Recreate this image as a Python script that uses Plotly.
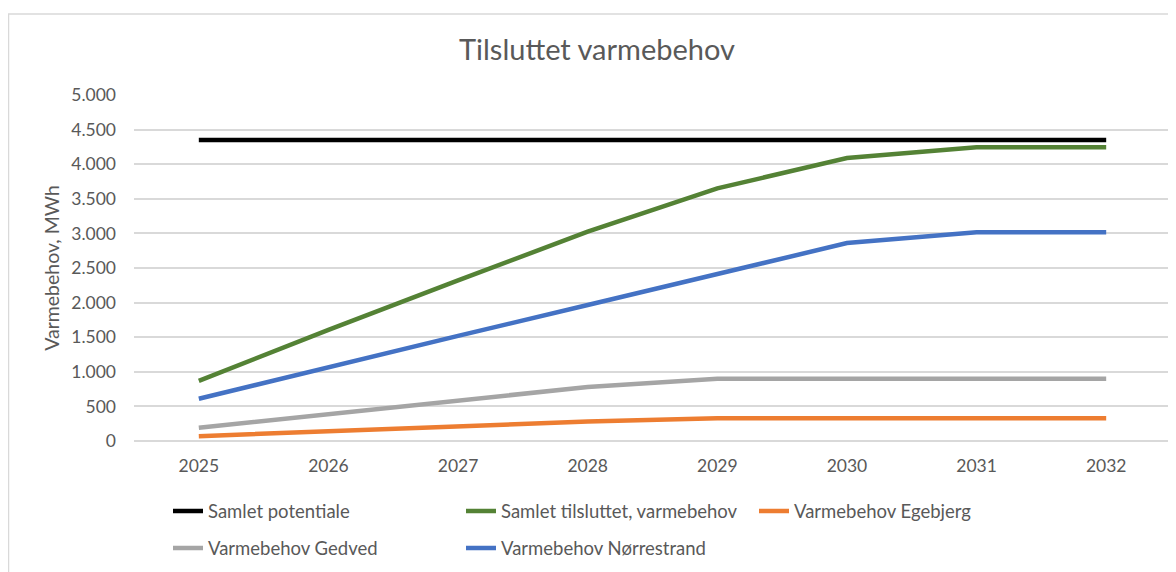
import plotly.graph_objects as go

years = ["2025", "2026", "2027", "2028", "2029", "2030", "2031", "2032"]

samlet_potentiale = [4350, 4350, 4350, 4350, 4350, 4350, 4350, 4350]
samlet_tilsluttet = [870, 1605, 2320, 3025, 3650, 4090, 4245, 4245]
egebjerg = [70, 145, 210, 280, 330, 330, 330, 330]
gedved = [190, 390, 590, 780, 900, 900, 900, 900]
noerrestrand = [610, 1070, 1520, 1965, 2420, 2860, 3015, 3015]

# (name, values, colour, legend row)
series = [
    ("Samlet potentiale", samlet_potentiale, "#000000", "legend"),
    ("Samlet tilsluttet, varmebehov", samlet_tilsluttet, "#548235", "legend"),
    ("Varmebehov Egebjerg", egebjerg, "#ED7D31", "legend"),
    ("Varmebehov Gedved", gedved, "#A5A5A5", "legend2"),
    ("Varmebehov Nørrestrand", noerrestrand, "#4472C4", "legend2"),
]

FONT = "Lato"
GREY_TXT = "#595959"
# page body has an 8px margin, so the figure is a bit smaller than the window
W, H = 1168, 564
L, R, T, B = 126, 5, 87, 123
PW, PH = W - L - R, H - T - B

fig = go.Figure()
for name, vals, col, leg in series:
    fig.add_trace(
        go.Scatter(
            x=years,
            y=vals,
            name=name,
            mode="lines",
            line=dict(color=col, width=4.5),
            legend=leg,
        )
    )


def _legend_row(y_px):
    return dict(
        orientation="h",
        x=(173 - 8 - L - 5) / PW,
        xanchor="left",
        y=(441 - y_px) / PH,
        yanchor="middle",
        entrywidth=248,
        entrywidthmode="pixels",
        itemwidth=30,
        font=dict(family=FONT, size=18.5, color=GREY_TXT),
        bgcolor="rgba(0,0,0,0)",
    )


fig.update_layout(
    width=W,
    height=H,
    margin=dict(l=L, r=R, t=T, b=B),
    paper_bgcolor="white",
    plot_bgcolor="white",
    separators=",.",
    font=dict(family=FONT, size=17.5, color=GREY_TXT),
    title=dict(
        text="Tilsluttet varmebehov",
        x=(597 - 8) / W,
        xref="container",
        xanchor="center",
        y=1 - 42 / H,
        yref="container",
        yanchor="middle",
        font=dict(family=FONT, size=29, color=GREY_TXT),
    ),
    xaxis=dict(
        type="category",
        range=[-0.5, 7.5],
        showgrid=False,
        showline=False,
        ticks="",
        tickfont=dict(size=17.5, color=GREY_TXT),
        ticklabelstandoff=12,
    ),
    yaxis=dict(
        range=[0, 5000],
        dtick=500,
        tickformat=",d",
        showgrid=True,
        gridcolor="#D9D9D9",
        gridwidth=1.5,
        zeroline=True,
        zerolinecolor="#D9D9D9",
        zerolinewidth=1.5,
        showline=False,
        ticks="",
        tickfont=dict(size=17.5, color=GREY_TXT),
        ticklabelstandoff=17,
        title=dict(
            text="Varmebehov, MWh",
            font=dict(size=19.5, color=GREY_TXT),
            standoff=6,
        ),
    ),
    legend=_legend_row(513),
    legend2=_legend_row(551),
    showlegend=True,
)

# chart-area border like the Excel frame
fig.add_shape(
    type="rect",
    xref="paper",
    yref="paper",
    x0=(0.5 - L) / PW,
    x1=1.2,
    y0=-0.8,
    y1=1 + (T - 4) / PH,
    line=dict(color="#D9D9D9", width=1.5),
    fillcolor="rgba(0,0,0,0)",
    layer="below",
)

fig.write_html("out.html")
